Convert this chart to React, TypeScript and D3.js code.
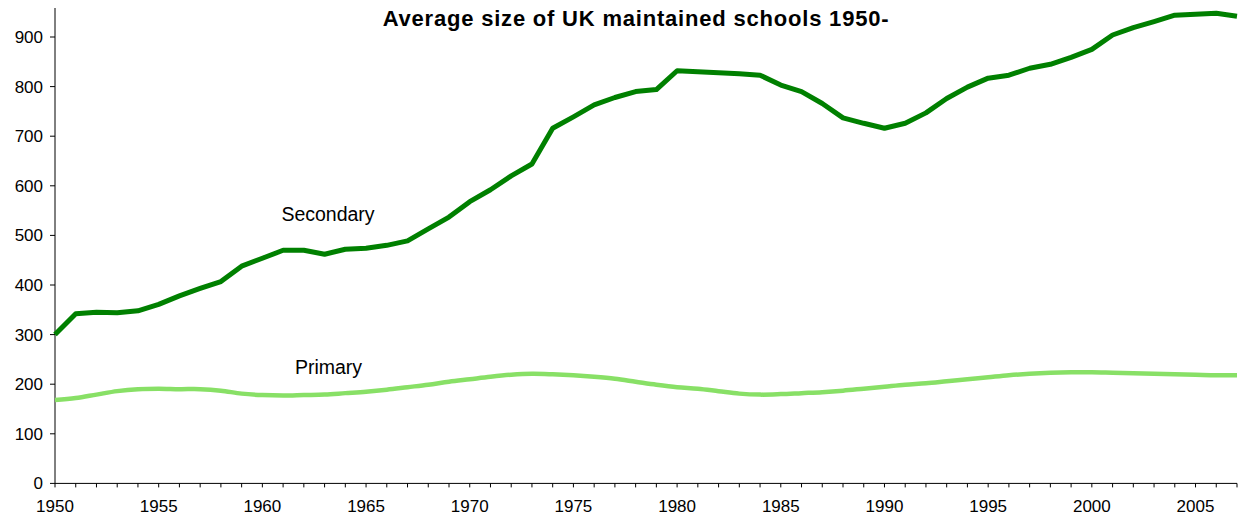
import * as d3 from "d3";

const years = d3.range(1950, 2008);

const secondary = [
  300, 342, 345, 344, 348, 361, 378, 393, 407, 438,
  454, 470, 470, 462, 472, 474, 480, 489, 513, 537,
  568, 592, 620, 644, 716, 739, 763, 778, 790, 794,
  832, 830, 828, 826, 823, 803, 790, 766, 737, 726,
  716, 726, 747, 776, 799, 817, 823, 837, 845, 859,
  875, 904, 919, 931, 944, 946, 948, 942,
];

const primary = [
  168, 172, 179, 186, 190, 191, 190, 190, 187, 181,
  178, 177, 178, 179, 182, 185, 189, 194, 199, 205,
  210, 215, 219, 221, 220, 218, 215, 211, 205, 199,
  194, 191, 186, 181, 179, 180, 182, 184, 187, 191,
  195, 199, 202, 206, 210, 214, 218, 221, 223, 224,
  224, 223, 222, 221, 220, 219, 218, 218,
];

const yTicks = [0, 100, 200, 300, 400, 500, 600, 700, 800, 900];
const xLabels = [1950, 1955, 1960, 1965, 1970, 1975, 1980, 1985, 1990, 1995, 2000, 2005];

const width = 1240;
const height = 515;
const font = "Liberation Sans, Arial, sans-serif";

export default function App() {
  const x = d3.scaleLinear().domain([1950, 2007]).range([55, 1237]);
  const y = d3.scaleLinear().domain([0, 900]).range([483.4, 37]);

  const secLine = d3
    .line<number>()
    .x((_, i) => x(years[i]))
    .y((d) => y(d));

  const priLine = d3
    .line<number>()
    .x((_, i) => x(years[i]))
    .y((d) => y(d))
    .curve(d3.curveCatmullRom);

  return (
    <svg
      width={width}
      height={height}
      style={{ position: "absolute", left: 0, top: 0, background: "#fff" }}
      fontFamily={font}
    >
      <text
        x={636}
        y={26}
        textAnchor="middle"
        fontSize={22}
        fontWeight="bold"
        letterSpacing={0.8}
        fill="#000"
      >
        Average size of UK maintained schools 1950-
      </text>

      {/* y axis */}
      <line x1={55} x2={55} y1={8} y2={y(0)} stroke="#000" strokeWidth={1} />
      {yTicks.map((t) => (
        <g key={t}>
          <line x1={50} x2={55} y1={y(t)} y2={y(t)} stroke="#000" />
          <text
            x={43}
            y={y(t)}
            dy="0.35em"
            textAnchor="end"
            fontSize={17}
            fill="#000"
          >
            {t}
          </text>
        </g>
      ))}

      {/* x axis */}
      <line x1={55} x2={1237} y1={y(0)} y2={y(0)} stroke="#000" />
      {years.map((yr) => (
        <line
          key={yr}
          x1={x(yr)}
          x2={x(yr)}
          y1={y(0)}
          y2={y(0) + 4}
          stroke="#000"
        />
      ))}
      {xLabels.map((yr) => (
        <text
          key={yr}
          x={x(yr)}
          y={512}
          textAnchor="middle"
          fontSize={17}
          fill="#000"
        >
          {yr}
        </text>
      ))}

      <path
        d={priLine(primary) || ""}
        fill="none"
        stroke="#88e066"
        strokeWidth={4.5}
        strokeLinejoin="round"
      />
      <path
        d={secLine(secondary) || ""}
        fill="none"
        stroke="#008000"
        strokeWidth={5}
        strokeLinejoin="round"
      />

      <text x={328} y={221} textAnchor="middle" fontSize={19.5} fill="#000">
        Secondary
      </text>
      <text x={328.5} y={374} textAnchor="middle" fontSize={19.5} fill="#000">
        Primary
      </text>
    </svg>
  );
}
